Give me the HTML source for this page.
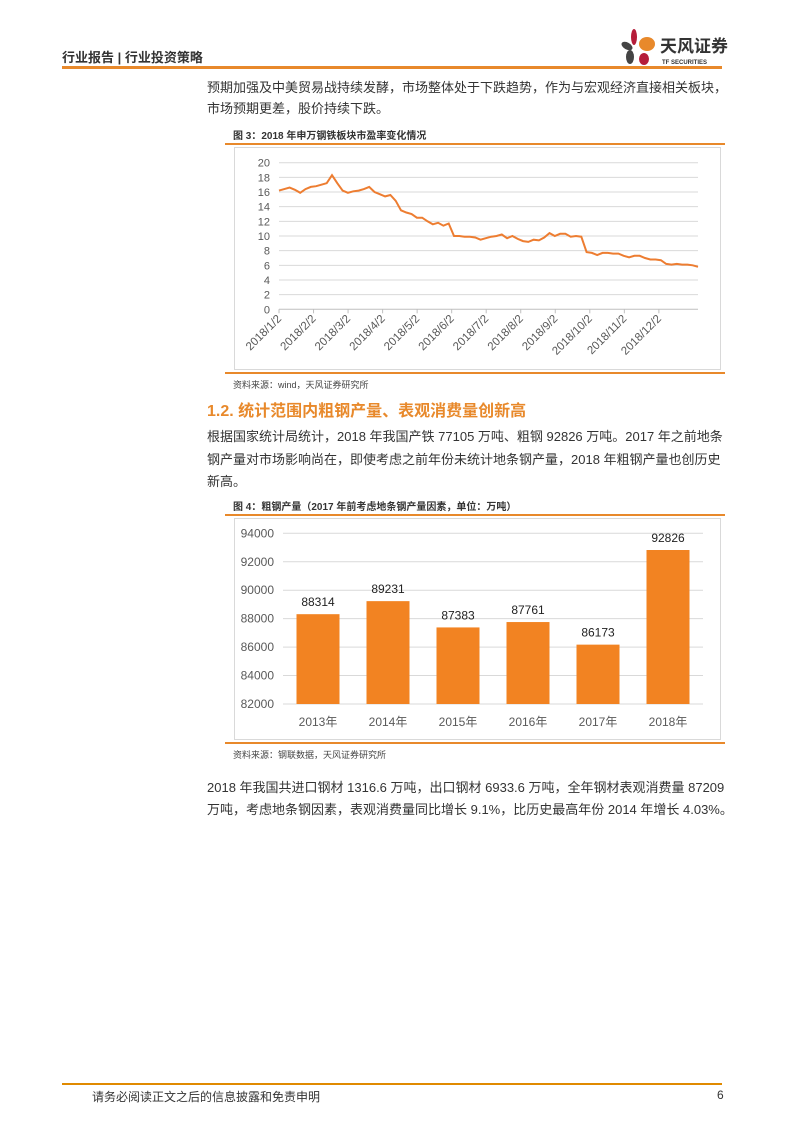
<!DOCTYPE html>
<html><head><meta charset="utf-8">
<style>
body{margin:0;width:793px;height:1122px;background:#fff;position:relative;overflow:hidden;font-family:"Liberation Sans","Noto Sans CJK SC",sans-serif;color:#333}
.a{position:absolute;white-space:nowrap}
.p{font-size:13px;color:#333}
.hr{position:absolute;background:#E8892B}
.cap{font-size:10px;font-weight:bold;color:#333}
.src{font-size:9px;color:#444}
</style></head><body>
<div class="a" style="left:62px;top:47px;font-size:13px;font-weight:bold;color:#333">行业报告 | 行业投资策略</div>
<svg class="a" style="left:620px;top:24px" width="110" height="44">
<ellipse cx="14" cy="13" rx="3" ry="8" fill="#B51D3A"/><ellipse cx="7" cy="22" rx="6" ry="3.5" fill="#444" transform="rotate(30 7 22)"/><ellipse cx="27" cy="20" rx="8" ry="7" fill="#E8892B"/><ellipse cx="10" cy="33" rx="4" ry="7" fill="#444"/><ellipse cx="24" cy="35" rx="5" ry="6" fill="#B51D3A"/>
<text x="40" y="28" font-size="17" font-weight="bold" fill="#333" font-family="Noto Sans CJK SC,sans-serif">天风证券</text>
<text x="42" y="40" font-size="6" font-weight="bold" fill="#333" font-family="Liberation Sans,sans-serif">TF SECURITIES</text></svg>
<div class="hr" style="left:62px;top:66px;width:660px;height:3px"></div>
<div class="a p" style="left:207px;top:77px;line-height:21px">预期加强及中美贸易战持续发酵，市场整体处于下跌趋势，作为与宏观经济直接相关板块，<br>市场预期更差，股价持续下跌。</div>
<div class="a cap" style="left:233px;top:127px">图 3：2018 年申万钢铁板块市盈率变化情况</div>
<div class="hr" style="left:225px;top:143px;width:500px;height:1.5px"></div>
<svg class="a" id="c1" style="left:0;top:0" width="793" height="400"></svg>
<div class="hr" style="left:225px;top:372px;width:500px;height:1.5px"></div>
<div class="a src" style="left:233px;top:378px">资料来源：wind，天风证券研究所</div>
<div class="a" style="left:207px;top:397px;font-size:16px;font-weight:bold;color:#E8892B">1.2. 统计范围内粗钢产量、表观消费量创新高</div>
<div class="a p" style="left:207px;top:426px;line-height:22.5px">根据国家统计局统计，2018 年我国产铁 77105 万吨、粗钢 92826 万吨。2017 年之前地条<br>钢产量对市场影响尚在，即使考虑之前年份未统计地条钢产量，2018 年粗钢产量也创历史<br>新高。</div>
<div class="a cap" style="left:233px;top:498px">图 4：粗钢产量（2017 年前考虑地条钢产量因素，单位：万吨）</div>
<div class="hr" style="left:225px;top:514px;width:500px;height:1.5px"></div>
<svg class="a" id="c2" style="left:0;top:0" width="793" height="760"></svg>
<div class="hr" style="left:225px;top:742px;width:500px;height:1.5px"></div>
<div class="a src" style="left:233px;top:748px">资料来源：钢联数据，天风证券研究所</div>
<div class="a p" style="left:207px;top:777px;line-height:22px">2018 年我国共进口钢材 1316.6 万吨，出口钢材 6933.6 万吨，全年钢材表观消费量 87209<br>万吨，考虑地条钢因素，表观消费量同比增长 9.1%，比历史最高年份 2014 年增长 4.03%。</div>
<div class="hr" style="left:62px;top:1083px;width:660px;height:2px;background:#E08A00"></div>
<div class="a" style="left:92px;top:1088px;font-size:12px;color:#333">请务必阅读正文之后的信息披露和免责申明</div>
<div class="a" style="left:717px;top:1088px;font-size:12px;color:#333">6</div>
<script>
const peValues=[16.2,16.4,16.6,16.3,15.9,16.4,16.7,16.8,17.0,17.2,18.3,17.2,16.2,15.9,16.1,16.2,16.4,16.7,16.0,15.7,15.4,15.6,14.8,13.5,13.2,13.0,12.5,12.5,12.0,11.6,11.8,11.4,11.7,10.0,10.0,9.9,9.9,9.8,9.5,9.7,9.9,10.0,10.2,9.7,10.0,9.6,9.3,9.2,9.5,9.4,9.8,10.4,10.0,10.3,10.3,9.9,10.0,9.9,7.8,7.7,7.4,7.7,7.7,7.6,7.6,7.3,7.1,7.3,7.3,7.0,6.8,6.8,6.7,6.2,6.1,6.2,6.1,6.1,6.0,5.8];
const peTicks=[0,2,4,6,8,10,12,14,16,18,20];
const monthLabels=["2018/1/2","2018/2/2","2018/3/2","2018/4/2","2018/5/2","2018/6/2","2018/7/2","2018/8/2","2018/9/2","2018/10/2","2018/11/2","2018/12/2"];
const years=["2013年","2014年","2015年","2016年","2017年","2018年"];
const output=[88314,89231,87383,87761,86173,92826];
const outTicks=[82000,84000,86000,88000,90000,92000,94000];
const NS="http://www.w3.org/2000/svg";
function mk(svg,tag,at,txt){const e=document.createElementNS(NS,tag);for(const k in at)e.setAttribute(k,at[k]);if(txt!==undefined)e.textContent=txt;svg.appendChild(e);return e;}
(function(){
const s=document.getElementById('c1');
const x0=279,x1=698,y0=309.3,y1=162.7;
const Y=v=>y0+(v-0)/(20-0)*(y1-y0);
const X=i=>x0+i/(peValues.length-1)*(x1-x0);
let r=mk(s,'rect',{x:234.5,y:147.5,width:486,height:222,fill:'#fff',stroke:'#D9D9D9'});


peTicks.forEach(t=>{
 let l=mk(s,'line',{x1:x0,x2:x1,y1:Y(t),y2:Y(t),stroke:t===0?'#BFBFBF':'#D9D9D9','stroke-width':1});
 
 
 let tx=mk(s,'text',{x:270,y:Y(t)+4,'text-anchor':'end','font-size':11,fill:'#595959'},t);
 
 
});
monthLabels.forEach((m,i)=>{
 const x=x0+i*(x1-x0)/12*(361/365);
 let tk=mk(s,'line',{x1:x,x2:x,y1:y0,y2:y0+4,stroke:'#BFBFBF'});
 
 
 let t=mk(s,'text',{x:x+3,y:y0+10,'text-anchor':'end','font-size':11.5,fill:'#595959',transform:`rotate(-45 ${x+3} ${y0+10})`},m);
 
 
});
let d=peValues.map((v,i)=>(i?'L':'M')+X(i).toFixed(1)+','+Y(v).toFixed(1)).join('');
let p=mk(s,'path',{d:d,fill:'none',stroke:'#ED7D31','stroke-width':2});


})();
(function(){
const s=document.getElementById('c2');
const x0=283,x1=703,y0=704,y1=533.3,mn=82000,mx=94000;
const Y=v=>y0+(v-mn)/(mx-mn)*(y1-y0);
const step=(x1-x0)/years.length,bw=43;
let r=mk(s,'rect',{x:234.5,y:518.5,width:486,height:221,fill:'#fff',stroke:'#D9D9D9'});


outTicks.forEach(t=>{
 let l=mk(s,'line',{x1:x0,x2:x1,y1:Y(t),y2:Y(t),stroke:'#D9D9D9'});
 
 
 let tx=mk(s,'text',{x:274,y:Y(t)+4,'text-anchor':'end','font-size':12,fill:'#595959'},t);
 
 
});
years.forEach((y,i)=>{
 const cx=x0+step*(i+0.5),v=output[i];
 let b=mk(s,'rect',{x:cx-bw/2,y:Y(v),width:bw,height:y0-Y(v),fill:'#F28322'});
 
 
 let lb=mk(s,'text',{x:cx,y:Y(v)-8,'text-anchor':'middle','font-size':12,fill:'#222'},v);
 
 
 let xl=mk(s,'text',{x:cx,y:726,'text-anchor':'middle','font-size':12,fill:'#595959','font-family':'Liberation Sans,Noto Sans CJK SC,sans-serif'},y);
 
 
});
})();
</script>
</body></html>
